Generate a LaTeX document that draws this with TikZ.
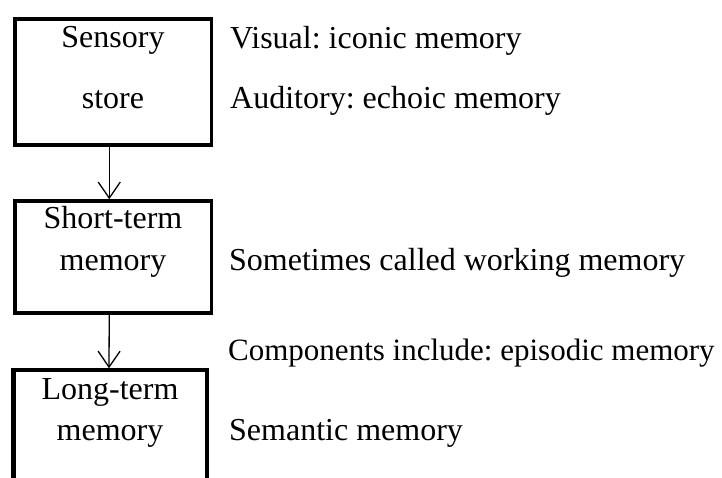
\documentclass[tikz,border=0pt]{standalone}
\usepackage{fontspec}
\setmainfont{Liberation Serif}
\usetikzlibrary{arrows.meta}
\frenchspacing
\begin{document}
\begin{tikzpicture}[x=1pt,y=-1pt,
  every node/.style={font=\fontsize{32}{41}\selectfont\frenchspacing, inner sep=0pt},
  box/.style={draw, line width=3.5pt, rectangle, inner sep=0pt},
  label/.style={anchor=base west},
  intext/.style={anchor=base},
  flow/.style={line width=1.3pt, -{Straight Barb[length=16pt,width=22pt,line width=1.3pt]}}
]
\useasboundingbox (0,0) rectangle (722,478);

% stores
\node[box, minimum width=196.5pt, minimum height=126pt] (sens) at (113.25,82) {};
\node[box, minimum width=196.5pt, minimum height=112pt] (stm) at (113.25,257) {};
% long-term store runs off the bottom edge, drawn on three sides
\node[rectangle, minimum width=193.5pt, minimum height=120pt, inner sep=0pt, outer sep=0pt] (ltm) at (110.25,430) {};
\draw[line width=4.5pt] (ltm.south west) -- (ltm.north west);
\draw[line width=3.5pt] ([xshift=-2.25pt]ltm.north west) -- (ltm.north east) -- (ltm.south east);

% box texts
\node[intext] (t1a) at (113,48) {Sensory};
\node[intext] (t1b) at (113,109) {store};
\node[intext] (t2a) at (113,229) {Short-term};
\node[intext] (t2b) at (113,270) {memory};
\node[intext] (t3a) at (110,399) {Long-term};
\node[intext] (t3b) at (110,440) {memory};

% side notes
\node[label] (n1) at (230,49) {Visual: iconic memory};
\node[label] (n2) at (230,109) {Auditory: echoic memory};
\node[label] (n3) at (229,270) {Sometimes called working memory};
\node[label, font=\fontsize{31}{41}\selectfont\frenchspacing] (n4) at (228,360) {Components include: episodic memory};
\node[label] (n5) at (229,440) {Semantic memory};

% connectors
\draw[flow] ([xshift=-4pt]sens.south) -- ([xshift=-4pt]stm.north);
\draw[flow] ([xshift=-4pt]stm.south) -- ([xshift=-1.25pt,yshift=1.75pt]ltm.north);
\end{tikzpicture}
\end{document}
